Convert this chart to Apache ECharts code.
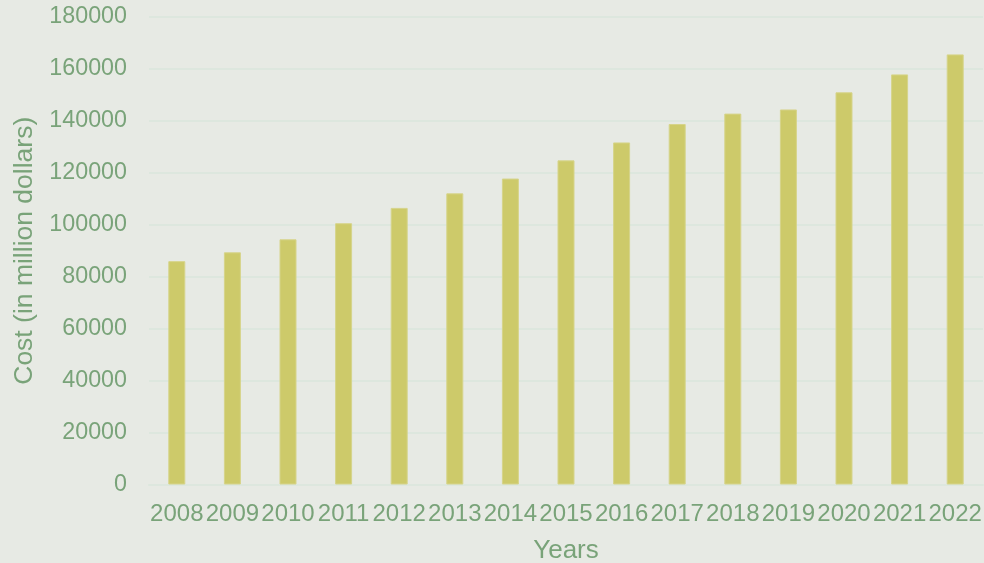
<!DOCTYPE html>
<html>
<head>
<meta charset="utf-8">
<script src="https://cdn.jsdelivr.net/npm/echarts@6/dist/echarts.min.js"></script>
<style>
html,body{margin:0;padding:0;background:#e7eae4;overflow:hidden;}
#chart{width:984px;height:563px;}
</style>
</head>
<body>
<div id="chart"></div>
<script>
const years = ['2008','2009','2010','2011','2012','2013','2014','2015','2016','2017','2018','2019','2020','2021','2022'];
const costs = [86000, 89400, 94400, 100600, 106500, 112100, 117800, 124800, 131700, 138800, 142800, 144400, 151000, 157900, 165600];
const yTicks = [0, 20000, 40000, 60000, 80000, 100000, 120000, 140000, 160000, 180000];

const textColor = '#79a379';
const gridColor = '#dde7de';
const fontFam = '"Liberation Sans", Arial, sans-serif';

const chart = echarts.init(document.getElementById('chart'), null, {renderer: 'canvas', width: 984, height: 563});
chart.setOption({
  backgroundColor: '#e7eae4',
  animation: false,
  grid: {left: 149, right: 1, top: 17, bottom: 78.5, containLabel: false, outerBoundsMode: 'none'},
  xAxis: {
    type: 'category',
    data: years,
    name: 'Years',
    nameLocation: 'middle',
    nameGap: 53,
    nameTextStyle: {color: textColor, fontSize: 26, fontFamily: fontFam},
    axisLine: {show: true, lineStyle: {color: gridColor, width: 2}},
    axisTick: {show: false},
    axisLabel: {color: textColor, fontSize: 24, fontFamily: fontFam, margin: 18, interval: 0}
  },
  yAxis: {
    type: 'value',
    min: yTicks[0],
    max: yTicks[yTicks.length - 1],
    interval: 20000,
    name: 'Cost (in million dollars)',
    nameLocation: 'middle',
    nameGap: 111,
    nameTextStyle: {color: textColor, fontSize: 26.5, fontFamily: fontFam},
    axisLine: {show: false},
    axisTick: {show: false},
    axisLabel: {color: textColor, fontSize: 23.3, fontFamily: fontFam, margin: 22, formatter: v => String(v)},
    splitLine: {show: true, lineStyle: {color: gridColor, width: 2}}
  },
  series: [{
    type: 'bar',
    data: costs,
    barWidth: 17,
    itemStyle: {color: '#cdca6a', borderColor: '#d6d48a', borderWidth: 1}
  }]
});
</script>
</body>
</html>
